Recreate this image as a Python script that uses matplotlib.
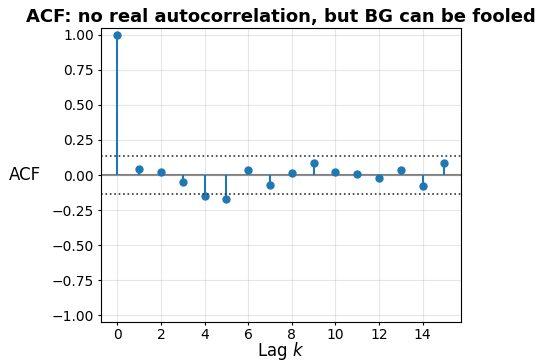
import numpy as np
import matplotlib
matplotlib.use("Agg")
import matplotlib.pyplot as plt

# sample autocorrelations at lags 0..15
lags = list(range(16))
acf_vals = [1.0, 0.043, 0.019, -0.052, -0.147, -0.171, 0.036, -0.071,
            0.014, 0.088, 0.024, 0.007, -0.021, 0.036, -0.076, 0.083]
n_obs = 200
conf = 1.96 / np.sqrt(n_obs)

fig = plt.figure(figsize=(5.35, 3.62), dpi=100)
ax = fig.add_axes([0.189, 0.110, 0.672, 0.813])

markerline, stemlines, baseline = ax.stem(lags, acf_vals, basefmt=" ")
plt.setp(markerline, markersize=5, color="C0")
plt.setp(stemlines, linewidth=1.5, color="C0")

ax.axhline(0, color="gray", linewidth=1.5, zorder=1)
ax.axhline(conf, color="#333333", linestyle=":", linewidth=1.2)
ax.axhline(-conf, color="#333333", linestyle=":", linewidth=1.2)

ax.set_xlim(-0.75, 15.75)
ax.set_ylim(-1.05, 1.05)
ax.set_yticks(np.arange(-1.0, 1.01, 0.25))
ax.set_xticks(range(0, 16, 2))
ax.tick_params(length=2.5, pad=2.5, labelsize=10)
ax.tick_params(axis="x", pad=1.5)
ax.grid(True, alpha=0.3)

ax.set_title("ACF: no real autocorrelation, but BG can be fooled",
             fontsize=13, fontweight="bold", pad=4)
ax.set_xlabel("Lag $k$", fontsize=12, va="bottom")
ax.xaxis.set_label_coords(0.5, -0.136)
ax.set_ylabel("ACF", fontsize=12, rotation=0, va="center", ha="center")
ax.yaxis.set_label_coords(-0.212, 0.5)

fig.savefig("out.png", dpi=100)
